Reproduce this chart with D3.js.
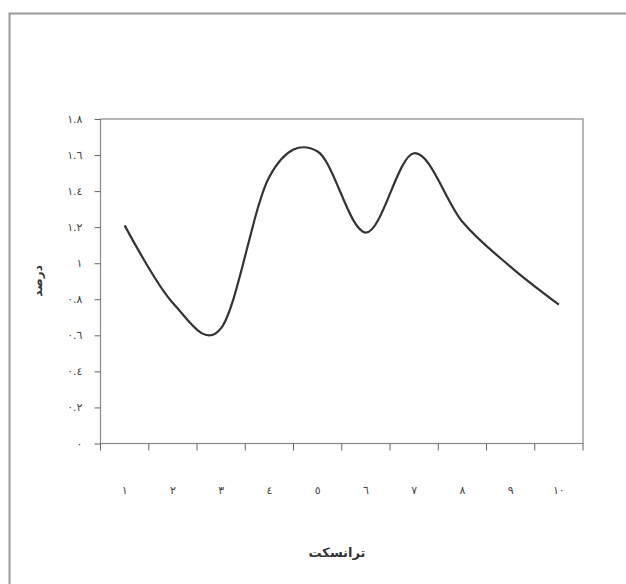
<!DOCTYPE html>
<html>
<head>
<meta charset="utf-8">
<script src="https://cdn.jsdelivr.net/npm/d3@7"></script>
<style>
  body { margin: 0; background: #fff; }
  text { font-family: "DejaVu Sans", sans-serif; fill: #333; }
</style>
</head>
<body>
<div id="chart"></div>
<script>
// data
var categories = ["١", "٢", "٣", "٤", "٥", "٦", "٧", "٨", "٩", "١٠"];
var values = [1.21, 0.78, 0.64, 1.48, 1.62, 1.17, 1.61, 1.23, 0.98, 0.77];
var yTicks = [0, 0.2, 0.4, 0.6, 0.8, 1, 1.2, 1.4, 1.6, 1.8];
var yTickLabels = ["٠", "٠.٢", "٠.٤", "٠.٦", "٠.٨", "١", "١.٢", "١.٤", "١.٦", "١.٨"];
var xTitle = "ترانسکت";
var yTitle = "درصد";

(function() {
  var width = 626, height = 584;
  // plot box (window.top is read-only, so keep these local)
  var pL = 100.5, pR = 583, pT = 119, pB = 443.5;

  var svg = d3.select("#chart").append("svg")
      .attr("width", width)
      .attr("height", height);

  // outer frame (cropped at right and bottom)
  svg.append("rect")
      .attr("x", 9.5).attr("y", 13.5)
      .attr("width", 700).attr("height", 700)
      .style("fill", "none")
      .style("stroke", "#999")
      .style("stroke-width", 2);

  var x = d3.scaleBand().domain(categories).range([pL, pR]);
  var y = d3.scaleLinear().domain([0, 1.8]).range([pB, pT]);

  // plot border
  svg.append("rect")
      .attr("x", pL).attr("y", pT)
      .attr("width", pR - pL).attr("height", pB - pT)
      .style("fill", "none")
      .style("stroke", "#888")
      .style("stroke-width", 1.2);

  // y axis
  var yAxis = d3.axisLeft(y)
      .tickValues(yTicks)
      .tickSize(6)
      .tickPadding(12)
      .tickFormat(function(d, i) { return yTickLabels[i]; });

  var gy = svg.append("g")
      .attr("transform", "translate(" + pL + ",0)")
      .call(yAxis);
  gy.select(".domain").remove();
  gy.selectAll(".tick line").style("stroke", "#666");
  gy.selectAll(".tick text").style("font-size", "11px").style("fill", "#444")
      .style("font-family", "DejaVu Sans, sans-serif");

  // x axis: ticks between categories
  var edges = categories.map(function(c) { return x(c); }).concat([pR]);
  var gx = svg.append("g").attr("class", "xaxis");
  gx.selectAll("line.tk").data(edges).enter().append("line")
      .attr("class", "tk")
      .attr("x1", function(d) { return d; })
      .attr("x2", function(d) { return d; })
      .attr("y1", pB)
      .attr("y2", pB + 7)
      .style("stroke", "#666");

  gx.selectAll("text.lbl").data(categories).enter().append("text")
      .attr("class", "lbl")
      .attr("x", function(d) { return x(d) + x.bandwidth() / 2; })
      .attr("y", 494)
      .attr("text-anchor", "middle")
      .style("font-size", "11px")
      .style("fill", "#444")
      .text(function(d) { return d; });

  // smoothed line
  var line = d3.line()
      .x(function(d, i) { return x(categories[i]) + x.bandwidth() / 2; })
      .y(function(d) { return y(d); })
      .curve(d3.curveCatmullRom.alpha(0));

  svg.append("path")
      .datum(values)
      .attr("d", line)
      .style("fill", "none")
      .style("stroke", "#333")
      .style("stroke-width", 2.2);

  // titles
  svg.append("text")
      .attr("x", 337).attr("y", 557)
      .attr("text-anchor", "middle")
      .style("font-size", "13px")
      .style("font-weight", "bold")
      .text(xTitle);

  svg.append("text")
      .attr("transform", "translate(42,281) rotate(-90)")
      .attr("text-anchor", "middle")
      .style("font-size", "12px")
      .style("font-weight", "bold")
      .text(yTitle);
}());
</script>
</body>
</html>
